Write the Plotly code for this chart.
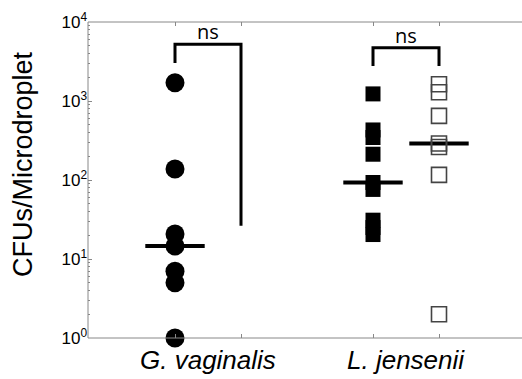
import numpy as np
import plotly.graph_objects as go

# ---- data ----
groups = ["G. vaginalis", "L. jensenii"]
gv_x = 1
gv_values = [1700, 138, 20.7, 14.6, 7.0, 5.0, 1.0]
lj_filled_x = 4
lj_filled_values = [1230, 430, 345, 212, 93, 76, 31, 25, 20.4]
lj_open_x = 5
lj_open_values = [1630, 1290, 648, 290, 262, 116, 2.0]
label_x = [1.5, 4.5]
y_tick_vals = [1, 10, 100, 1000, 10000]
y_tick_exp = ["0", "1", "2", "3", "4"]
y_title = "CFUs/Microdroplet"
# significance brackets: (x_left, x_right, top, left_end, right_end)
brackets = [
    (1, 2, 5220, 3020, 26.4),
    (4, 5, 4730, 2770, 2770),
]
bracket_text = ["ns", "ns"]

minor_vals = [d * m for d in y_tick_vals[:-1] for m in range(2, 10)]
y_tick_text = [f"10<sup>{e}</sup>" for e in y_tick_exp]

W, H = 522, 379
ML, MR, MT, MB = 88, 0, 22, 41
PW, PH = W - ML - MR, H - MT - MB

fig = go.Figure()

# median lines
half = 0.45
for xc, vals in [(gv_x, gv_values), (lj_filled_x, lj_filled_values), (lj_open_x, lj_open_values)]:
    m = float(np.median(vals))
    fig.add_trace(go.Scatter(x=[xc - half, xc + half], y=[m, m], mode="lines",
                             line=dict(color="black", width=4), hoverinfo="skip",
                             showlegend=False))

fig.add_trace(go.Scatter(x=[gv_x] * len(gv_values), y=gv_values, mode="markers",
                         marker=dict(symbol="circle", size=19, color="black"),
                         showlegend=False, cliponaxis=False))
fig.add_trace(go.Scatter(x=[lj_filled_x] * len(lj_filled_values), y=lj_filled_values, mode="markers",
                         marker=dict(symbol="square", size=15, color="black"),
                         showlegend=False, cliponaxis=False))
fig.add_trace(go.Scatter(x=[lj_open_x] * len(lj_open_values), y=lj_open_values, mode="markers",
                         marker=dict(symbol="square-open", size=15, color="#444",
                                     line=dict(width=1.6, color="#444")),
                         showlegend=False, cliponaxis=False))

for (xl, xr_, top, le, re_), txt in zip(brackets, bracket_text):
    fig.add_trace(go.Scatter(x=[xl, xl, xr_, xr_], y=[le, top, top, re_], mode="lines",
                             line=dict(color="black", width=3), hoverinfo="skip",
                             showlegend=False))
    fig.add_annotation(x=(xl + xr_) / 2, y=np.log10(top), text=txt, showarrow=False,
                       yanchor="bottom", yshift=-3,
                       font=dict(family="Open Sans", size=20, color="black"))

for xv, g in zip(label_x, groups):
    fig.add_annotation(x=xv, y=0, xref="x", yref="paper", text=f"<i>{g}</i>",
                       showarrow=False, yanchor="top", yshift=-5,
                       font=dict(family="Liberation Sans, Arial", size=26, color="black"))

# y-axis title placed as rotated text
fig.add_annotation(x=(23 - ML) / PW, y=(H - MB - 164) / PH, xref="paper", yref="paper",
                   xanchor="center", yanchor="middle", textangle=-90, text=y_title,
                   showarrow=False, font=dict(family="Liberation Sans, Arial", size=27, color="black"))

axis_col = "#888"
# frame lines: bottom, top and left only (the reference box runs off the image on the right)
fig.add_shape(type="path", xref="paper", yref="paper", path="M 1 1 L 0 1 L 0 0 L 1 0",
              line=dict(color=axis_col, width=1), layer="above")

xr = [1 - 87 / 66, 1 + 347 / 66]
fig.update_layout(
    width=W, height=H,
    margin=dict(l=ML, r=MR, t=MT, b=MB),
    paper_bgcolor="white", plot_bgcolor="white",
    font=dict(family="Liberation Sans, Arial", color="black"),
    showlegend=False,
    xaxis=dict(range=xr, tickvals=[1, 2, 4, 5], ticktext=["", "", "", ""],
               ticks="inside", ticklen=4, tickcolor=axis_col, showline=False,
               mirror="allticks", showgrid=False, zeroline=False),
    yaxis=dict(type="log", range=[0, 4], tickvals=y_tick_vals, ticktext=y_tick_text,
               ticks="inside", ticklen=4, tickcolor=axis_col, showline=False,
               mirror=False, showgrid=False, zeroline=False,
               tickfont=dict(size=17, color="black"),
               minor=dict(ticks="inside", ticklen=2, tickcolor=axis_col, tickvals=minor_vals,
                          showgrid=False),
               automargin=False),
)

fig.write_html("out.html", config={"displayModeBar": False})
